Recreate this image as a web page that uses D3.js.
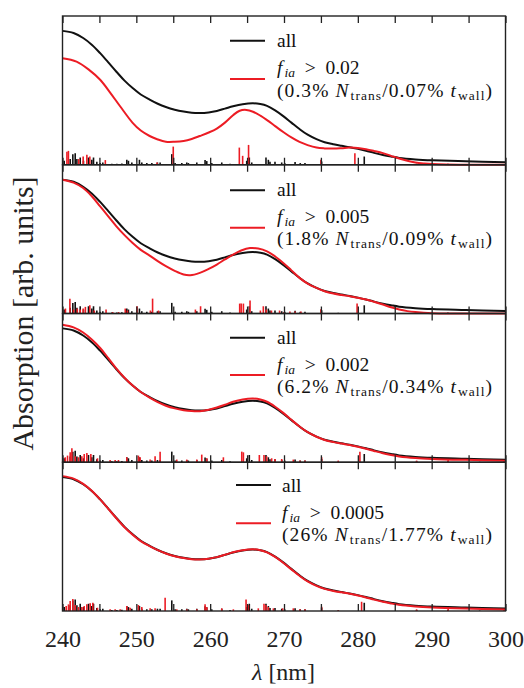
<!DOCTYPE html>
<html><head><meta charset="utf-8">
<script src="https://cdn.jsdelivr.net/npm/d3@7"></script>
<style>body{margin:0;background:#fff}svg{display:block}</style>
</head><body><svg id="c" width="524" height="688"></svg>
<script>
// ---------- data ----------
const allWl  = [240,241.5,242.8,244,245.1,246.2,247.3,248.4,249.5,250.6,251.8,252.9,254,255.2,256.4,257.5,258.6,259.8,260.9,262,263.1,264.4,265.8,266.8,267.7,268.8,269.9,271,272.1,273.2,274.4,275.5,276.7,277.8,278.9,280,281.1,282.2,283.4,284.5,285.6,287.8,290.1,294.6,300];
const allAbs = [135,132.8,127.8,120.8,112.5,103.2,93.8,84.8,77.3,70.8,65.7,61.5,58.2,55.5,53.6,52.4,52.1,52.8,54.3,56.6,59,61.1,62,61.2,59.3,54.8,49,42.5,36,30.3,25.8,22.7,20.6,19.1,17.7,16,14.1,12,9.9,8.3,6.9,5.4,4.5,3.5,2.4];

const red1Wl  = [240,241.9,243.6,245.1,246.5,247.8,249.5,250.6,251.8,252.9,254,255.2,256.4,257.5,258.6,259.8,260.9,262,263.1,264,264.9,265.8,266.8,267.7,268.8,269.9,271,272.1,273.2,274.4,275.5,276.7,277.8,278.9,280,281.1,282.2,283.4,284.5,285.6,286.7,287.8,289,290.1,292,295,300];
const red1Abs = [107.4,104,95.7,85.7,72.3,59,42.3,34.5,29,25.5,23.2,23.2,24,26,29,32.5,36.5,42.5,50,54.5,55.3,53.5,49.5,45,39,33,27.5,23,19.8,17.3,16.5,16.3,16.7,17.3,17,15.7,13.9,11.7,9,6.3,4,2.3,1.3,0.7,0.2,0,0];

const red2Wl  = [240,241.5,242.8,244,245.1,246.2,247.3,248.4,249.5,250.6,251.8,252.9,254,255.2,256.4,257.3,258.6,259.8,260.9,262,263.1,264.2,265.4,266.5,267.7,268.8,269.9,271,272.1,273.2,274.4,275.5,276.7,277.8,278.9,280,281.1,282.2,283.4,284.5,285.6,286.7,287.8,290.1,293,300];
const red2Abs = [134.9,132,126.5,118,108,98,87.9,79,71.1,64.2,58.4,52.8,47.7,43,39.3,38.6,41,45,49.4,54.5,59.4,63.5,66,65.5,62.7,57.5,51,43.5,35.9,30.2,25.8,22.5,20.1,18.6,17.4,15.8,14.1,11.8,9,6.3,4,2.4,1.4,0.3,0,0];

const red3Wl  = [240,241.5,242.8,244,245.1,246.2,247.3,248.4,249.5,250.6,251.8,252.9,254,255.2,256.4,257.5,258.6,259.8,260.9,262,263.1,264.4,265.8,266.8,267.7,268.8,269.9,271,272.1,273.2,274.4,275.5,276.7,277.8,278.9,280,281.1,282.2,283.4,284.5,285.6,287.8,290.1,294.6,300];
const red3Abs = [138.6,136,130.8,123.5,115.2,105,94.5,85.2,77.3,70.8,65.1,60.6,57,54.3,52.5,51.6,51.5,53,55.2,58,61,63.3,64.2,63.3,61,56,49.8,42.8,36,30.3,25.7,22.5,20.3,18.8,17.4,15.6,13.6,11.4,9.1,7.3,5.9,4.3,3.4,2.4,1.5];

const red4Wl  = [240,241.5,242.8,244,245.1,246.2,247.3,248.4,249.5,250.6,251.8,252.9,254,255.2,256.4,257.5,258.6,259.8,260.9,262,263.1,264.4,265.8,266.8,267.7,268.8,269.9,271,272.1,273.2,274.4,275.5,276.7,277.8,278.9,280,281.1,282.2,283.4,284.5,285.6,287.8,290.1,294.6,300];
const red4Abs = [136,133.5,128.2,121,112.5,103,93.5,84.5,77,70.5,65.4,61.3,58,55.3,53.4,52.3,52,52.8,54.3,56.7,59.2,61.3,62.2,61.3,59.2,54.5,48.6,42,35.5,29.8,25.3,22.3,20.2,18.8,17.4,15.7,13.7,11.5,9.3,7.6,6.2,4.6,3.6,2.5,1.6];

// stick spectra: [wavelength nm, oscillator height]
const sticksAll = [[240.23,4],[241.04,5.7],[241.4,10.7],[241.72,11.7],[241.95,5.7],[242.4,7.3],[242.84,4],[243.52,7.3],[243.97,5],[244.2,7.3],[244.65,3],[245.1,1.7],[245.46,2.3],[246.68,1],[247.36,1],[248.04,1.3],[248.71,5],[248.93,4],[249.39,2.3],[250.42,5],[250.74,2.3],[251.42,1.7],[252.1,1.7],[252.86,2.3],[253.22,2.3],[254.8,10.7],[255.25,1.7],[256.16,1.7],[256.83,2.3],[257.05,1.7],[258.19,2.3],[259.31,4.7],[259.54,3.7],[260.22,1.7],[261.57,2.3],[262.69,1],[264.95,4],[265.3,7.3],[265.63,2.3],[267.56,7.3],[267.88,5],[268.1,3],[268.78,3],[269.69,2.3],[270.1,1.7],[271.5,2.7],[272.2,1.7],[272.84,1.7],[275.1,3.3],[277.35,0.7],[280.87,8.3],[287.96,1],[292.2,1],[296.5,0.5]];
const sticks1 = [[240.6,13],[240.8,14],[242.2,5.7],[242.8,8.3],[243.3,10],[243.7,8.3],[245.8,4.7],[252.8,2.3],[255.0,18.3],[263.95,17.3],[264.4,9],[265.2,20],[275.0,5],[279.6,11.7]];
const sticks2 = [[240.4,5],[241.0,15],[241.5,4],[242.0,5],[242.4,4],[242.8,5],[243.1,6.7],[243.7,8.3],[244.3,3],[245.9,4],[246.8,1.5],[247.6,1.5],[248.5,5],[248.8,3],[250.1,7.3],[251.9,3],[252.2,15],[253.0,3],[258.0,4],[258.7,7.3],[264.0,10],[264.2,10],[264.5,10],[265.4,13],[266.8,3],[267.2,7.3],[267.6,4],[268.3,3],[269.4,3],[270.0,1.5],[270.8,2],[271.5,2],[272.3,2],[275.0,4.3],[279.9,10]];
const sticks3 = [[240.37,5],[240.68,6.7],[241.04,10],[241.27,14],[241.72,6],[242.17,5],[242.62,6],[242.94,8.3],[243.3,9.3],[243.84,8.3],[244.74,4],[246.45,2.3],[247.13,2.3],[247.58,2.3],[248.71,5],[250.28,6.7],[250.51,5],[251.87,2.7],[252.54,6],[253.22,10.7],[255.48,2.7],[256.83,2.7],[258.19,2.7],[258.86,7.7],[259.54,4],[261.79,5],[264.28,10.7],[264.5,10],[266.66,7.3],[267.29,7.3],[267.65,6],[268.33,4],[268.78,3.3],[269.69,3.3],[271.26,2.7],[272.16,1.7],[272.84,1.7],[275.1,5],[277.35,1.7],[280.28,10.7],[287.96,1.7],[292.23,2.7],[299.8,1.7]];
const sticks4 = [[240.5,5],[240.81,6.7],[241.04,10],[241.4,12],[241.72,6],[242.17,4],[242.62,4],[242.94,5],[243.3,6.7],[243.75,7.7],[244.11,8.3],[244.74,3.3],[246.45,1.7],[247.13,1.7],[247.81,1.7],[248.71,5],[249.16,3.3],[250.28,6],[250.74,4],[251.87,2.7],[252.54,2.7],[253.9,13.3],[255.48,1.7],[256.83,1.7],[258.19,1.7],[259.31,6.7],[259.54,4],[261.57,2.7],[263.14,1.7],[264.86,11.7],[265.17,6],[266.52,2.7],[267.29,7.3],[267.56,6],[267.88,4],[268.56,2.7],[269.82,2.7],[271.26,2.7],[272.16,1.7],[272.84,1.7],[275.1,4.3],[277.35,0.7],[280.51,9.3],[287.96,1.7],[292.23,2.7],[299.8,1.7]];

const thresholds = ["0.02","0.005","0.002","0.0005"];
const nTransPct  = ["0.3%","1.8%","6.2%","26%"];
const tWallPct   = ["0.07%","0.09%","0.34%","1.77%"];
const xTickLabels = [240,250,260,270,280,290,300];
const xTicksAll   = [240,245,250,255,260,265,270,275,280,285,290,295,300];

// ---------- layout ----------
const svg = d3.select("#c");
const FONT = "Liberation Serif, Times New Roman, serif";
const left = 62.5, right = 505.5, top0 = 16, ph = 148.75;
const x = d3.scaleLinear().domain([240,300]).range([left,right]);
const BLACK = "#111", RED = "#ec1c24";

const panels = [
  {redWl:red1Wl, redAbs:red1Abs, sticks:sticks1, thr:thresholds[0], n:nTransPct[0], t:tWallPct[0], lx:230, ly:[24.7,63], tx:277, tb:[31,58,80.5], w:[85,215]},
  {redWl:red2Wl, redAbs:red2Abs, sticks:sticks2, thr:thresholds[1], n:nTransPct[1], t:tWallPct[1], lx:230, ly:[25.5,63], tx:277, tb:[31,58,80.5], w:[93,215]},
  {redWl:red3Wl, redAbs:red3Abs, sticks:sticks3, thr:thresholds[2], n:nTransPct[2], t:tWallPct[2], lx:230, ly:[24.3,61.5], tx:277, tb:[30.5,57,79.5], w:[93,215]},
  {redWl:red4Wl, redAbs:red4Abs, sticks:sticks4, thr:thresholds[3], n:nTransPct[3], t:tWallPct[3], lx:236, ly:[22.7,61], tx:282, tb:[30,56.5,79], w:[105,210]}
];

panels.forEach((p,i)=>{
  const pt = top0 + i*ph, pb = pt + ph;
  const y = d3.scaleLinear().domain([0,150]).range([pb, pt]);
  const g = svg.append("g");

  // sticks
  g.append("g").selectAll("line").data(sticksAll).join("line")
    .attr("x1",d=>x(d[0])).attr("x2",d=>x(d[0]))
    .attr("y1",y(0)).attr("y2",d=>y(d[1]))
    .attr("stroke",BLACK).attr("stroke-width",1.6);
  g.append("g").selectAll("line").data(p.sticks).join("line")
    .attr("x1",d=>x(d[0])).attr("x2",d=>x(d[0]))
    .attr("y1",y(0)).attr("y2",d=>y(d[1]))
    .attr("stroke",RED).attr("stroke-width",1.6);

  const line = d3.line().curve(d3.curveCatmullRom.alpha(0.5)).x(d=>x(d[0])).y(d=>y(d[1]));
  g.append("path").attr("d", line(d3.zip(allWl, allAbs)))
    .attr("fill","none").attr("stroke",BLACK).attr("stroke-width",2);
  g.append("path").attr("d", line(d3.zip(p.redWl, p.redAbs)))
    .attr("fill","none").attr("stroke",RED).attr("stroke-width",2);

  // ticks (inward, top and bottom)
  g.append("g").attr("transform",`translate(0,${pt})`)
    .call(d3.axisBottom(x).tickValues(xTicksAll).tickSize(7).tickFormat(""))
    .call(a=>{a.select(".domain").remove(); a.selectAll("line").attr("stroke","#222").attr("stroke-width",1.3);});
  g.append("g").attr("transform",`translate(0,${pb})`)
    .call(d3.axisTop(x).tickValues(xTicksAll).tickSize(7).tickFormat(""))
    .call(a=>{a.select(".domain").remove(); a.selectAll("line").attr("stroke","#222").attr("stroke-width",1.3);});

  // frame
  g.append("rect").attr("x",left).attr("y",pt).attr("width",right-left).attr("height",ph)
    .attr("fill","none").attr("stroke","#222").attr("stroke-width",1.4);

  // legend
  const lg = g.append("g").style("font-family",FONT).attr("font-size",19.5).attr("fill","#111");
  lg.append("line").attr("x1",p.lx).attr("x2",p.lx+35).attr("y1",pt+p.ly[0]).attr("y2",pt+p.ly[0])
    .attr("stroke",BLACK).attr("stroke-width",2);
  lg.append("line").attr("x1",p.lx).attr("x2",p.lx+35).attr("y1",pt+p.ly[1]).attr("y2",pt+p.ly[1])
    .attr("stroke",RED).attr("stroke-width",2);
  lg.append("text").attr("x",p.tx).attr("y",pt+p.tb[0]).text("all");
  const t1 = lg.append("text").attr("x",p.tx).attr("y",pt+p.tb[1]);
  t1.append("tspan").attr("font-style","italic").text("f");
  t1.append("tspan").attr("font-style","italic").attr("font-size",13.5).attr("dx",2).attr("dy",3).text("ia");
  t1.append("tspan").attr("dy",-3).text("\u2002>\u2002" + p.thr);
  const t2 = lg.append("text").attr("x",p.tx).attr("y",pt+p.tb[2])
    .attr("textLength",p.w[1]).attr("lengthAdjust","spacing");
  t2.append("tspan").text("(" + p.n + " ");
  t2.append("tspan").attr("font-style","italic").text("N");
  t2.append("tspan").attr("font-size",13.5).attr("dx",1).attr("dy",3).text("trans");
  t2.append("tspan").attr("dy",-3).text("/" + p.t + " ");
  t2.append("tspan").attr("font-style","italic").text("t");
  t2.append("tspan").attr("font-size",13.5).attr("dx",1).attr("dy",3).text("wall");
  t2.append("tspan").attr("dy",-3).text(")");
});

// x tick labels
const bottom = top0 + 4*ph;
svg.append("g").attr("transform",`translate(0,${bottom})`)
  .call(d3.axisBottom(x).tickValues(xTickLabels).tickSize(0).tickPadding(19).tickFormat(d3.format("d")))
  .call(a=>{a.select(".domain").remove(); a.attr("font-family",null);
    a.selectAll("text").style("font-family",FONT).attr("font-size",24).attr("fill","#222");});

// axis titles
const xl = svg.append("text").attr("x",(left+right)/2 - 0.5).attr("y",680)
  .attr("text-anchor","middle").style("font-family",FONT).attr("font-size",24).attr("fill","#222");
xl.append("tspan").attr("font-style","italic").text("\u03bb");
xl.append("tspan").text(" [nm]");

svg.append("text").attr("transform",`translate(33,${top0+2*ph}) rotate(-90)`)
  .attr("text-anchor","middle").style("font-family",FONT).attr("font-size",30).attr("fill","#222")
  .text("Absorption [arb. units]");
</script></body></html>
